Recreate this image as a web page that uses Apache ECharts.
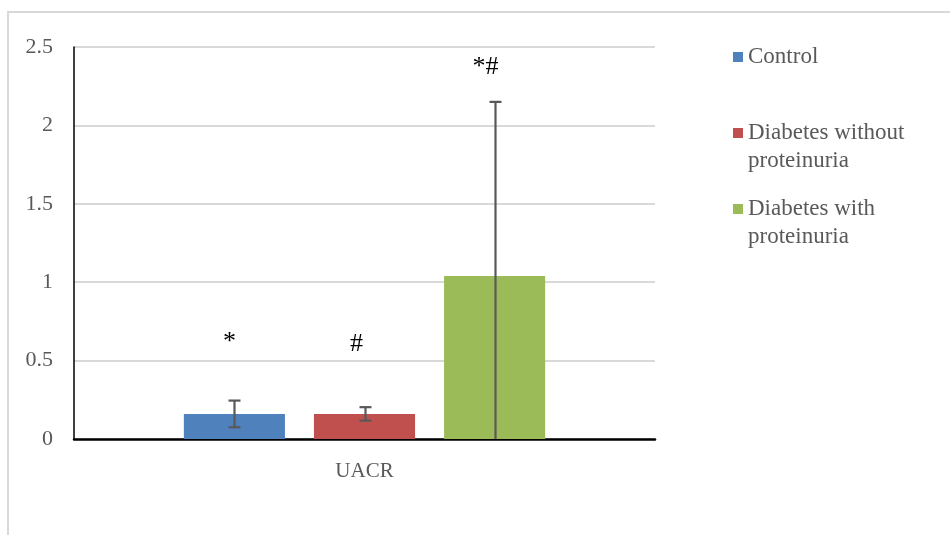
<!DOCTYPE html>
<html>
<head>
<meta charset="utf-8">
<script src="https://cdn.jsdelivr.net/npm/echarts@6/dist/echarts.min.js"></script>
<style>
  html, body { margin: 0; padding: 0; background: #fff; }
  #chart { width: 950px; height: 535px; }
</style>
</head>
<body>
<div id="chart"></div>
<script>
// UACR by group: mean with SD error bars
const categories = ['UACR'];
const groupNames = ['Control', 'Diabetes without\nproteinuria', 'Diabetes with\nproteinuria'];
const meanValues = [0.16, 0.16, 1.04];
const sdValues = [0.085, 0.043, 1.11];
const markers = ['*', '#', '*#'];
const yMin = 0, yMax = 2.5, yStep = 0.5;

const colors = ['#4f81bd', '#c0504d', '#9bbb59'];
const FONT = '"Liberation Serif", serif';
const TEXT = '#595959';
const BAR_FRAC = 0.174;   // bar width as a share of the category band
const GAP_FRAC = 0.287;   // gap between bars as a share of bar width
const markerLift = [58, 63, 35];
const markerShift = [-5, -9, -10];

const chart = echarts.init(document.getElementById('chart'), null, { renderer: 'canvas' });

const barSeries = groupNames.map((name, i) => ({
  name: name,
  type: 'bar',
  data: [meanValues[i]],
  barWidth: (BAR_FRAC * 100) + '%',
  barGap: (GAP_FRAC * 100) + '%',
  itemStyle: { color: colors[i] },
  emphasis: { disabled: true },
  z: 2
}));

const errorSeries = {
  type: 'custom',
  name: 'sd',
  data: meanValues.map((m, i) => [0, m, sdValues[i], i]),
  z: 5,
  silent: true,
  renderItem(params, api) {
    const cat = api.value(0), mean = api.value(1), sd = api.value(2), g = api.value(3);
    const band = api.size([1, 0])[0];
    const bw = band * BAR_FRAC;
    const step = bw * (1 + GAP_FRAC);
    const cx = Math.round(api.coord([cat, 0])[0] + (g - 1) * step) + 0.5;
    const hiVal = mean + sd, loVal = mean - sd;
    const yHi = api.coord([cat, hiVal])[1];
    const yLo = api.coord([cat, Math.max(yMin, loVal)])[1];
    const cap = 6;
    const st = { stroke: '#595959', lineWidth: 2.2 };
    const children = [
      { type: 'line', shape: { x1: cx, y1: yHi, x2: cx, y2: yLo }, style: st },
      { type: 'line', shape: { x1: cx - cap, y1: yHi, x2: cx + cap, y2: yHi }, style: st }
    ];
    if (loVal > yMin) {
      children.push({ type: 'line', shape: { x1: cx - cap, y1: yLo, x2: cx + cap, y2: yLo }, style: st });
    }
    children.push({
      type: 'text',
      style: {
        text: markers[g], x: cx + markerShift[g], y: yHi - markerLift[g],
        align: 'center', verticalAlign: 'middle',
        fill: '#000', font: '26px ' + FONT
      }
    });
    return { type: 'group', children: children };
  }
};

// one legend block per group so each entry sits at its own height
const legendTops = [43, 91, 167];
const legends = groupNames.map((name, i) => ({
  data: [name],
  orient: 'vertical',
  left: 733,
  top: legendTops[i],
  padding: 0,
  itemWidth: 10,
  itemHeight: 10,
  icon: 'rect',
  selectedMode: false,
  formatter: n => n.indexOf('\n') >= 0 ? ' \n' + n : n,
  textStyle: { color: TEXT, fontFamily: FONT, fontSize: 23, lineHeight: 28 }
}));

chart.setOption({
  animation: false,
  backgroundColor: '#fff',
  graphic: [{
    type: 'rect',
    shape: { x: 8, y: 12, width: 980, height: 560 },
    style: { fill: 'none', stroke: '#d9d9d9', lineWidth: 2 },
    silent: true, z: -10
  }],
  legend: legends,
  grid: { left: 74, right: 295, top: 47, bottom: 96, containLabel: false },
  xAxis: {
    type: 'category',
    data: categories,
    axisLine: { lineStyle: { color: '#000', width: 2.5 } },
    axisTick: { show: false },
    axisLabel: { color: TEXT, fontFamily: FONT, fontSize: 21, margin: 22 }
  },
  yAxis: {
    type: 'value',
    min: yMin, max: yMax, interval: yStep,
    axisLine: { show: true, lineStyle: { color: '#000', width: 1.5 } },
    axisTick: { show: false },
    axisLabel: { color: TEXT, fontFamily: FONT, fontSize: 22, margin: 21 },
    splitLine: { lineStyle: { color: '#d9d9d9', width: 2 } }
  },
  series: [...barSeries, errorSeries]
});
</script>
</body>
</html>
